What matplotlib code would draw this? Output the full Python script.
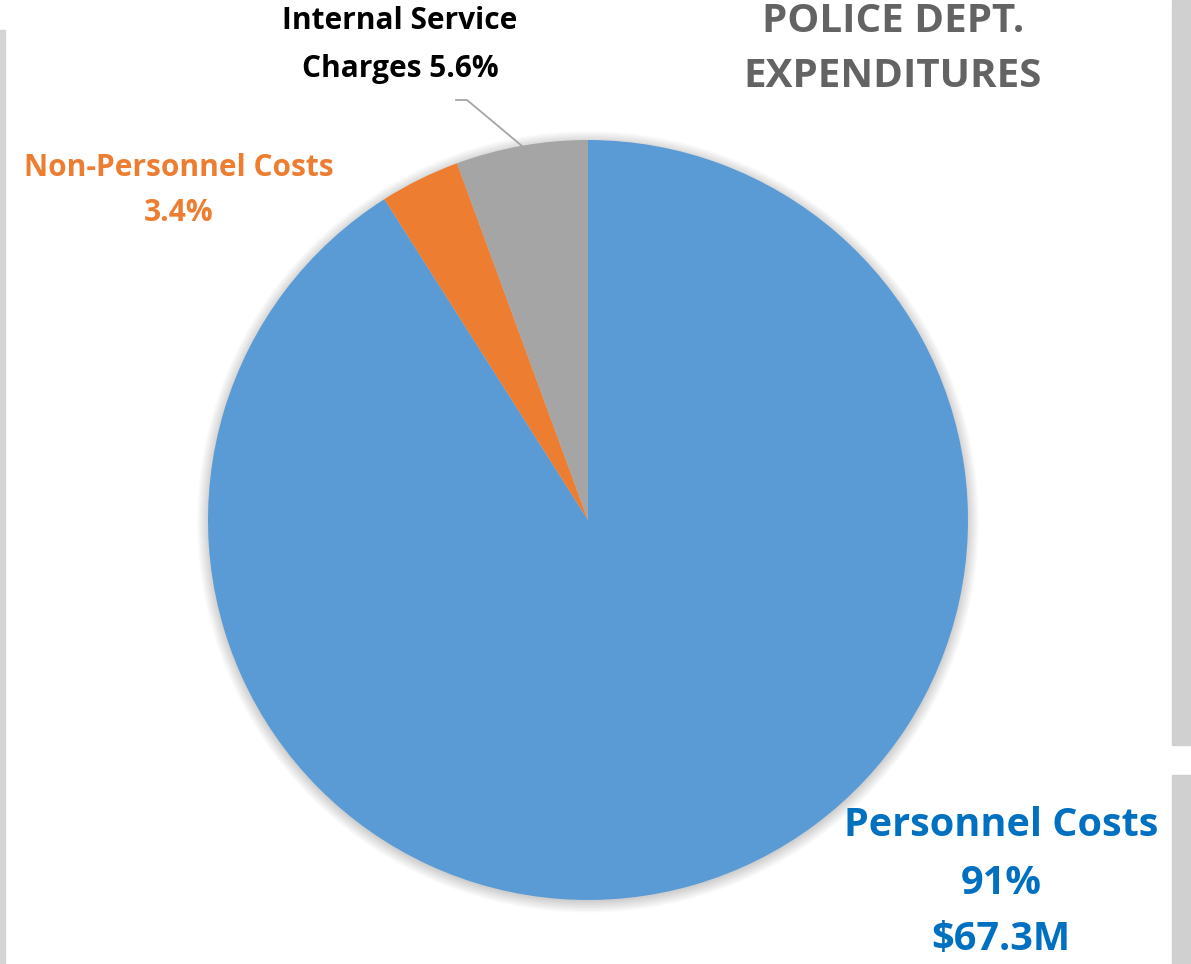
import matplotlib.pyplot as plt
from matplotlib.patches import Rectangle, Circle

labels = ['Personnel Costs', 'Non-Personnel Costs', 'Internal Service Charges']
shares = [91.0, 3.4, 5.6]
colors = ['#5B9BD5', '#ED7D31', '#A5A5A5']

W, H = 1191, 964
fig = plt.figure(figsize=(W / 100, H / 100), dpi=100)
fig.patch.set_facecolor('white')

def fx(x):
    return x / W

def fy(y):
    return 1 - y / H

# textured strips at the edges of the slide
fig.patches.append(Rectangle((0, fy(964)), fx(5), fy(30) - fy(964), transform=fig.transFigure,
                             color='#d4d4d4', zorder=0))
fig.patches.append(Rectangle((fx(1172), fy(745)), fx(19), fy(0) - fy(745), transform=fig.transFigure,
                             color='#d0d0d0', zorder=0))
fig.patches.append(Rectangle((fx(1172), fy(964)), fx(19), fy(775) - fy(964), transform=fig.transFigure,
                             color='#d0d0d0', zorder=0))

cx, cy, r = 588, 520, 380
ax = fig.add_axes([fx(cx - r), fy(cy + r), 2 * r / W, 2 * r / H])

# soft shadow
for i in range(8):
    ax.add_patch(Circle((0, -0.005), 1 + 0.004 * i, color='black', alpha=0.025, lw=0,
                        zorder=0, clip_on=False))

wedges, _ = ax.pie(shares, colors=colors, startangle=90, counterclock=False, radius=1,
                   wedgeprops=dict(linewidth=0), frame=True)
for w in wedges:
    w.set_clip_on(False)
ax.set_xlim(-1, 1)
ax.set_ylim(-1, 1)
ax.set_aspect('equal')
ax.axis('off')

font = 'Open Sans'
fig.text(fx(893), fy(22), 'POLICE DEPT.', ha='center', va='center', fontsize=29,
         fontweight='bold', color='#636363', family=font)
fig.text(fx(893), fy(77), 'EXPENDITURES', ha='center', va='center', fontsize=29,
         fontweight='bold', color='#636363', family=font)

fig.text(fx(400), fy(21), 'Internal Service', ha='center', va='center', fontsize=21.5,
         fontweight='bold', color='black', family=font)
fig.text(fx(400), fy(69), 'Charges %.1f%%' % shares[2], ha='center', va='center', fontsize=21.5,
         fontweight='bold', color='black', family=font)

fig.text(fx(179), fy(168), 'Non-Personnel Costs', ha='center', va='center', fontsize=21.5,
         fontweight='bold', color='#ED7D31', family=font)
fig.text(fx(179), fy(213), '%.1f%%' % shares[1], ha='center', va='center', fontsize=21.5,
         fontweight='bold', color='#ED7D31', family=font)

fig.text(fx(1001), fy(825), 'Personnel Costs', ha='center', va='center', fontsize=28.5,
         fontweight='bold', color='#0070C0', family=font)
fig.text(fx(1001), fy(884), '%d%%' % shares[0], ha='center', va='center', fontsize=28.5,
         fontweight='bold', color='#0070C0', family=font)
fig.text(fx(1001), fy(940), '$67.3M', ha='center', va='center', fontsize=28.5,
         fontweight='bold', color='#0070C0', family=font)

# leader line for internal service charges
fig.add_artist(plt.Line2D([fx(456), fx(467), fx(522)], [fy(100), fy(100), fy(146)],
                          color='#A5A5A5', lw=1.3))

fig.savefig('out.png', dpi=100)
